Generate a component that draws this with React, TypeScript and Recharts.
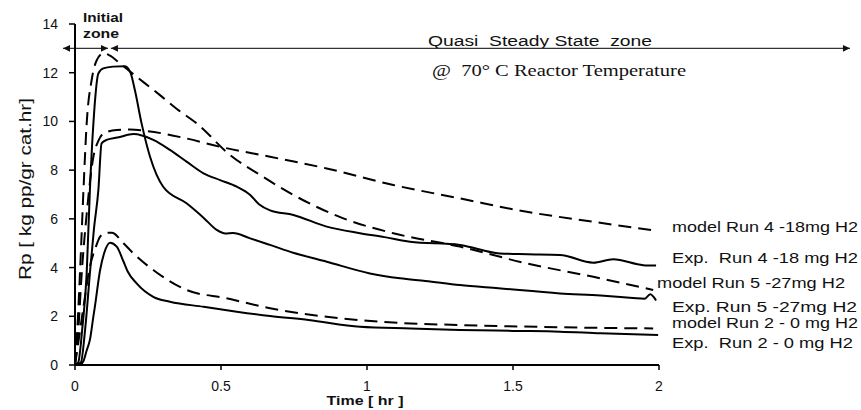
import { Line, LineChart, ReferenceLine, XAxis, YAxis } from "recharts";

const X_TICKS = [0, 0.5, 1, 1.5, 2];
const Y_TICKS = [0, 2, 4, 6, 8, 10, 12, 14];

// model Run 4 - 18 mg H2 (dashed)
const model4T = [0, 0.01, 0.023, 0.04, 0.063, 0.08, 0.097, 0.143, 0.188, 0.25, 0.382, 0.5, 0.668, 0.862, 1.09, 1.318, 1.547, 1.775, 1.992];
const model4V = [0, 1.2, 3.76, 6.2, 8.55, 9.2, 9.5, 9.65, 9.67, 9.6, 9.3, 8.95, 8.55, 8.07, 7.39, 6.84, 6.29, 5.88, 5.51];

// Exp. Run 4 - 18 mg H2
const exp4T = [0, 0.02, 0.035, 0.051, 0.065, 0.08, 0.091, 0.108, 0.15, 0.2, 0.268, 0.325, 0.382, 0.44, 0.497, 0.554, 0.6, 0.63, 0.668, 0.748, 0.862, 0.976, 1.06, 1.147, 1.318, 1.455, 1.55, 1.661, 1.775, 1.843, 1.946, 1.99];
const exp4V = [0, 0.1, 1.5, 3.76, 5.6, 7.18, 9.1, 9.24, 9.35, 9.48, 9.24, 8.83, 8.35, 7.87, 7.59, 7.32, 6.98, 6.6, 6.35, 6.16, 5.68, 5.41, 5.25, 5.06, 4.93, 4.58, 4.55, 4.52, 4.2, 4.34, 4.1, 4.08];

// model Run 5 - 27 mg H2 (dashed)
const model5T = [0, 0.008, 0.017, 0.029, 0.04, 0.057, 0.074, 0.097, 0.12, 0.154, 0.2, 0.291, 0.35, 0.417, 0.531, 0.634, 0.748, 0.919, 1.09, 1.318, 1.547, 1.775, 1.98];
const model5V = [0, 1.5, 3.76, 7.18, 9.92, 11.7, 12.5, 12.8, 12.7, 12.38, 11.94, 11.08, 10.5, 9.92, 8.62, 7.8, 6.98, 6.02, 5.41, 4.86, 4.17, 3.62, 3.08];

// Exp. Run 5 - 27 mg H2
const exp5T = [0, 0.011, 0.025, 0.04, 0.051, 0.063, 0.08, 0.097, 0.13, 0.171, 0.19, 0.205, 0.228, 0.257, 0.302, 0.382, 0.44, 0.485, 0.515, 0.541, 0.6, 0.668, 0.75, 0.862, 1.01, 1.113, 1.2, 1.318, 1.45, 1.661, 1.8, 1.911, 1.95, 1.97, 1.99];
const exp5V = [0, 0.1, 1.5, 3.76, 7.18, 9.92, 11.97, 12.18, 12.25, 12.27, 12.0, 11.29, 9.92, 8.55, 7.32, 6.64, 6.05, 5.55, 5.4, 5.42, 5.2, 4.93, 4.6, 4.24, 3.76, 3.56, 3.45, 3.28, 3.15, 2.94, 2.85, 2.75, 2.72, 2.9, 2.65];

// model Run 2 - 0 mg H2 (dashed)
const model2T = [0, 0.01, 0.029, 0.051, 0.07, 0.086, 0.105, 0.126, 0.166, 0.2, 0.268, 0.382, 0.519, 0.668, 0.862, 1.09, 1.318, 1.661, 1.98];
const model2V = [0, 0.8, 2.39, 4.04, 4.8, 5.27, 5.42, 5.43, 5.0, 4.58, 3.9, 3.08, 2.74, 2.33, 1.98, 1.74, 1.64, 1.55, 1.5];

// Exp. Run 2 - 0 mg H2
const exp2T = [0, 0.015, 0.028, 0.04, 0.051, 0.063, 0.068, 0.086, 0.1, 0.12, 0.143, 0.166, 0.18, 0.211, 0.268, 0.325, 0.44, 0.554, 0.668, 0.8, 0.976, 1.15, 1.318, 1.5, 1.661, 1.8, 1.997];
const exp2V = [0, 0, 0.14, 0.6, 1.03, 2.0, 2.39, 3.9, 4.6, 5.02, 4.86, 4.25, 3.85, 3.35, 2.8, 2.6, 2.39, 2.19, 2.01, 1.85, 1.57, 1.5, 1.44, 1.4, 1.37, 1.3, 1.23];

const toPoints = (t: number[], v: number[]) => t.map((x, i) => ({ t: x, rp: v[i] }));

const SERIES = [
  { name: "model Run 4 -18mg H2", data: toPoints(model4T, model4V), dashed: true },
  { name: "Exp.  Run 4 -18 mg H2", data: toPoints(exp4T, exp4V), dashed: false },
  { name: "model Run 5 -27mg H2", data: toPoints(model5T, model5V), dashed: true },
  { name: "Exp. Run 5 -27mg H2", data: toPoints(exp5T, exp5V), dashed: false },
  { name: "model Run 2 - 0 mg H2", data: toPoints(model2T, model2V), dashed: true },
  { name: "Exp.  Run 2 - 0 mg H2", data: toPoints(exp2T, exp2V), dashed: false },
];

// zone arrows (time in hr, at Rp = 13)
const ZONE_Y = 13;
const INITIAL_ZONE = [-0.041, 0.113];
const QSS_ZONE = [0.123, 2.654];

const SANS = "'Liberation Sans', Arial, sans-serif";
const SERIF = "'Liberation Serif', 'Times New Roman', serif";

// where each run label sits on the right: [x, baseline, width]
const labelLayout: [number, number, number][] = [
  [672, 232, 186],
  [672, 263, 186],
  [657, 288, 188],
  [672, 312, 185],
  [672, 328, 186],
  [672, 348, 181],
];

function DoubleArrow(props: any) {
  const { x1, y1, x2, y2 } = props;
  const c = "#333";
  return (
    <g>
      <line x1={x1} y1={y1} x2={x2} y2={y2} stroke={c} strokeWidth={1.2} />
      <polygon points={`${x1},${y1} ${x1 + 7},${y1 - 3.3} ${x1 + 7},${y1 + 3.3}`} fill="#111" />
      <polygon points={`${x2},${y2} ${x2 - 7},${y2 - 3.3} ${x2 - 7},${y2 + 3.3}`} fill="#111" />
    </g>
  );
}

export default function App() {
  return (
    <div style={{ position: "absolute", left: 0, top: 0, width: 861, height: 410, background: "#fff" }}>
      <LineChart width={861} height={410} margin={{ top: 24, right: 202, bottom: 0, left: 0 }}>
        <XAxis
          type="number"
          dataKey="t"
          domain={[0, 2]}
          ticks={X_TICKS}
          allowDataOverflow
          height={45}
          tickSize={5}
          tickMargin={11}
          axisLine={{ stroke: "#000", strokeWidth: 2 }}
          tickLine={{ stroke: "#000", strokeWidth: 1.5 }}
          tick={{ fill: "#111", fontSize: 14, fontFamily: SANS }}
          tickFormatter={(v: number) => String(v)}
        />
        <YAxis
          type="number"
          domain={[0, 14]}
          ticks={Y_TICKS}
          allowDataOverflow
          width={75}
          tickSize={6}
          tickMargin={11}
          axisLine={{ stroke: "#000", strokeWidth: 2 }}
          tickLine={{ stroke: "#000", strokeWidth: 1.5 }}
          tick={{ fill: "#111", fontSize: 14, fontFamily: SANS }}
        />
        <ReferenceLine
          segment={[{ x: INITIAL_ZONE[0], y: ZONE_Y }, { x: INITIAL_ZONE[1], y: ZONE_Y }]}
          ifOverflow="visible"
          shape={DoubleArrow}
        />
        <ReferenceLine
          segment={[{ x: QSS_ZONE[0], y: ZONE_Y }, { x: QSS_ZONE[1], y: ZONE_Y }]}
          ifOverflow="visible"
          shape={DoubleArrow}
        />
        {SERIES.map((s) => (
          <Line
            key={s.name}
            data={s.data}
            dataKey="rp"
            type="monotone"
            stroke="#000"
            strokeWidth={2}
            strokeDasharray={s.dashed ? "13 7" : undefined}
            dot={false}
            activeDot={false}
            isAnimationActive={false}
          />
        ))}
        <g fontFamily={SANS} fill="#111">
          <text
            x={25}
            y={189}
            transform="rotate(-90 25 189)"
            textAnchor="middle"
            dominantBaseline="central"
            fontSize={17}
            textLength={182}
            lengthAdjust="spacingAndGlyphs"
          >
            Rp [ kg pp/gr cat.hr]
          </text>
          <text x={365} y={405} textAnchor="middle" fontSize={13} fontWeight="bold" textLength={77} lengthAdjust="spacingAndGlyphs">
            Time [ hr ]
          </text>
          <text x={83} y={22} fontSize={13} fontWeight="bold" textLength={40} lengthAdjust="spacingAndGlyphs">
            Initial
          </text>
          <text x={83} y={38} fontSize={13} fontWeight="bold" textLength={36} lengthAdjust="spacingAndGlyphs">
            zone
          </text>
          <text x={428} y={46} fontSize={14} textLength={224} lengthAdjust="spacingAndGlyphs" style={{ whiteSpace: "pre" }}>
            {"Quasi  Steady State  zone"}
          </text>
          <text x={432} y={76} fontSize={16} fontFamily={SERIF} textLength={254} lengthAdjust="spacingAndGlyphs" style={{ whiteSpace: "pre" }}>
            {"@  70° C Reactor Temperature"}
          </text>
          {SERIES.map((s, i) => (
            <text
              key={s.name}
              x={labelLayout[i][0]}
              y={labelLayout[i][1]}
              fontSize={15}
              textLength={labelLayout[i][2]}
              lengthAdjust="spacingAndGlyphs"
              style={{ whiteSpace: "pre" }}
            >
              {s.name}
            </text>
          ))}
        </g>
      </LineChart>
    </div>
  );
}
